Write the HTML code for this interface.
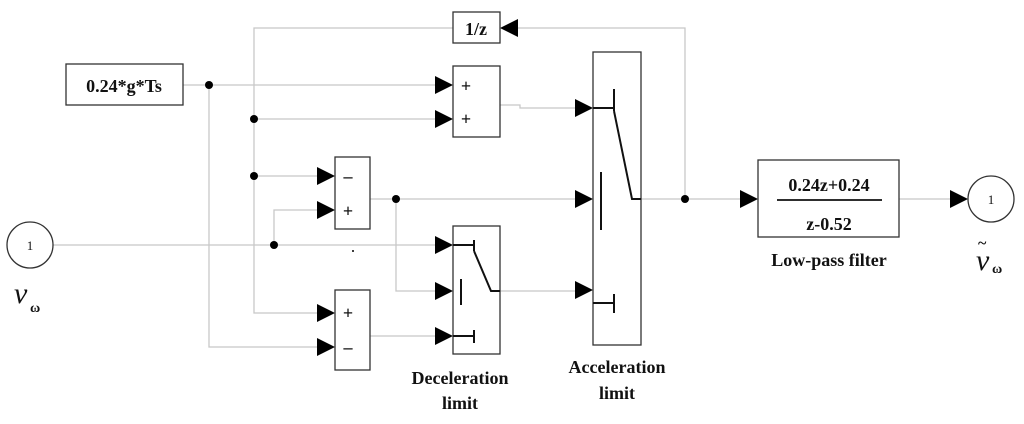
<!DOCTYPE html><html><head><style>body{margin:0;background:#fff}svg{display:block}text{font-family:"Liberation Serif",serif;font-weight:bold;fill:#111}</style></head><body>
<svg width="1024" height="424" viewBox="0 0 1024 424" xmlns="http://www.w3.org/2000/svg">
<defs><marker id="a" markerWidth="10" markerHeight="10" refX="9" refY="5" orient="auto" markerUnits="userSpaceOnUse"><path d="M0,0 L18,5 L0,10z" fill="#000" transform="scale(0.55,1)"/></marker></defs>
<g fill="none" stroke="#c8c8c8" stroke-width="1.3">
<path d="M453,28 H254 V313 H318"/>
<path d="M183,85 H436"/>
<path d="M209,85 V347 H318"/>
<path d="M254,119 H436"/>
<path d="M254,176 H318"/>
<path d="M274,245 V210 H318"/>
<path d="M53,245 H436"/>
<path d="M370,199 H576"/>
<path d="M396,199 V291 H436"/>
<path d="M370,336 H436"/>
<path d="M500,105 H520 V108 H576"/>
<path d="M500,291 H576"/>
<path d="M641,199 H741"/>
<path d="M685,199 V28 H512"/>
<path d="M899,199 H951"/>
</g>
<g fill="#000">
<path d="M435,76 L453,85 L435,94z"/><path d="M435,110 L453,119 L435,128z"/>
<path d="M317,167 L335,176 L317,185z"/><path d="M317,201 L335,210 L317,219z"/>
<path d="M317,304 L335,313 L317,322z"/><path d="M317,338 L335,347 L317,356z"/>
<path d="M435,236 L453,245 L435,254z"/><path d="M435,282 L453,291 L435,300z"/><path d="M435,327 L453,336 L435,345z"/>
<path d="M575,99 L593,108 L575,117z"/><path d="M575,190 L593,199 L575,208z"/><path d="M575,281 L593,290 L575,299z"/>
<path d="M740,190 L758,199 L740,208z"/><path d="M950,190 L968,199 L950,208z"/>
<path d="M518,19 L500,28 L518,37z"/>
<circle cx="209" cy="85" r="4"/><circle cx="254" cy="119" r="4"/><circle cx="254" cy="176" r="4"/>
<circle cx="274" cy="245" r="4"/><circle cx="396" cy="199" r="4"/><circle cx="685" cy="199" r="4"/>
<circle cx="353" cy="251" r="1"/>
</g>
<g fill="#fff" stroke="#333" stroke-width="1.3">
<rect x="453" y="12" width="47" height="31"/>
<rect x="66" y="64" width="117" height="41"/>
<rect x="453" y="66" width="47" height="71"/>
<rect x="335" y="157" width="35" height="72"/>
<rect x="335" y="290" width="35" height="80"/>
<rect x="453" y="226" width="47" height="128"/>
<rect x="593" y="52" width="48" height="293"/>
<rect x="758" y="160" width="141" height="77"/>
<circle cx="30" cy="245" r="23"/>
<circle cx="991" cy="199" r="23"/>
</g>
<g fill="none" stroke="#111" stroke-width="2">
<path d="M453,245 H474 M474,240 V251 M474,251 L491,291 H500 M461,279 V305 M453,336 H474 M474,330 V343"/>
<path d="M593,108 H614 M614,89 V111 M614,111 L632,199 H641 M601,172 V230 M593,303 H614 M614,294 V313"/>
<path d="M777,200 H882" stroke-width="1.8"/>
</g>
<g font-size="18">
<text x="124" y="92" text-anchor="middle">0.24*g*Ts</text>
<text x="476" y="35" text-anchor="middle">1/z</text>
<text x="466" y="92" text-anchor="middle">+</text><text x="466" y="125" text-anchor="middle">+</text>
<text x="348" y="182" text-anchor="middle">–</text><text x="348" y="217" text-anchor="middle">+</text>
<text x="348" y="319" text-anchor="middle">+</text><text x="348" y="353" text-anchor="middle">–</text>
<text x="829" y="191" text-anchor="middle">0.24z+0.24</text>
<text x="829" y="230" text-anchor="middle">z-0.52</text>
<text x="829" y="266" text-anchor="middle">Low-pass filter</text>
<text x="460" y="384" text-anchor="middle">Deceleration</text>
<text x="460" y="409" text-anchor="middle">limit</text>
<text x="617" y="373" text-anchor="middle">Acceleration</text>
<text x="617" y="399" text-anchor="middle">limit</text>
</g>
<g style="font-family:'Liberation Sans',sans-serif;font-weight:normal" font-size="13">
<text x="30" y="250" text-anchor="middle" style="font-weight:normal">1</text>
<text x="991" y="204" text-anchor="middle" style="font-weight:normal">1</text>
</g>
<text x="14" y="303" font-size="30" font-style="italic" style="font-weight:normal">v</text>
<text x="30" y="312" font-size="14">ω</text>
<text x="976" y="270" font-size="30" font-style="italic" style="font-weight:normal">v</text>
<text x="992" y="273" font-size="14">ω</text>
<text x="978" y="248" font-size="16">~</text>
</svg></body></html>
